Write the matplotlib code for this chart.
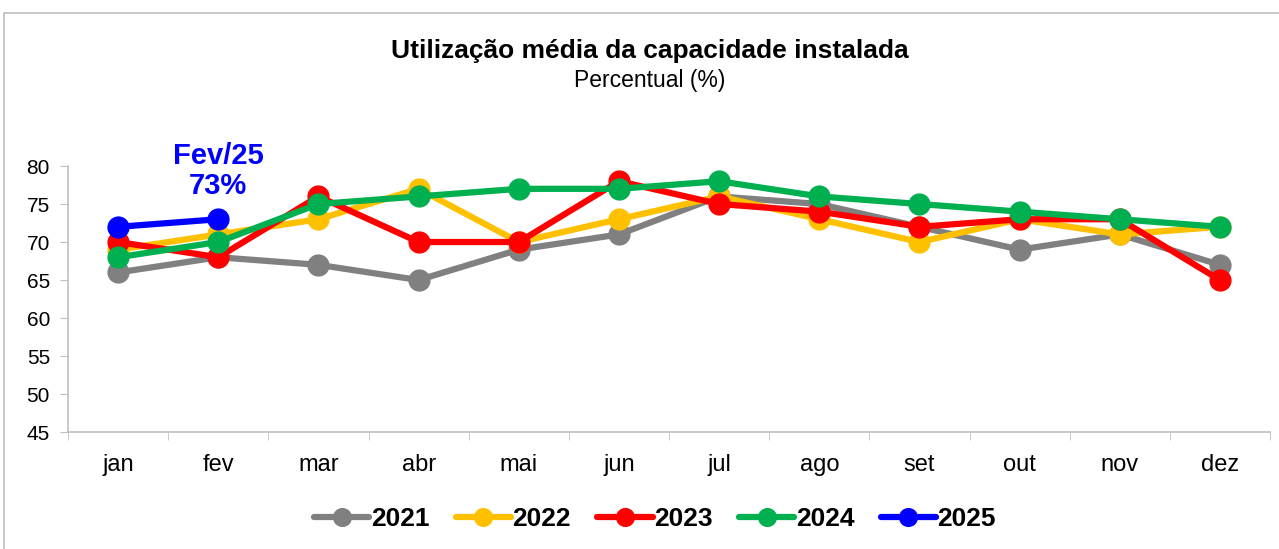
import matplotlib.pyplot as plt
from matplotlib.patches import Rectangle
import numpy as np

plt.rcParams['font.family'] = ['Liberation Sans', 'DejaVu Sans']

meses = ["jan", "fev", "mar", "abr", "mai", "jun", "jul", "ago", "set", "out", "nov", "dez"]
anos = ["2021", "2022", "2023", "2024", "2025"]
cores = ["#808080", "#FFC000", "#FF0000", "#00B050", "#0000FF"]

v2021 = [66, 68, 67, 65, 69, 71, 76, 75, 72, 69, 71, 67]
v2022 = [69, 71, 73, 77, 70, 73, 76, 73, 70, 73, 71, 72]
v2023 = [70, 68, 76, 70, 70, 78, 75, 74, 72, 73, 73, 65]
v2024 = [68, 70, 75, 76, 77, 77, 78, 76, 75, 74, 73, 72]
v2025 = [72, 73]
series = [v2021, v2022, v2023, v2024, v2025]

fig = plt.figure(figsize=(12.79, 5.49), dpi=100)
ax = fig.add_axes([0.0532, 0.213, 0.9398, 0.4846])

# moldura externa
fig.patches.append(Rectangle((0.003, -0.05), 1.1, 1.026, transform=fig.transFigure,
                             fill=False, edgecolor="#BFBFBF", linewidth=1.2))

x = np.arange(len(meses))
for ano, vals, cor in zip(anos, series, cores):
    ax.plot(x[:len(vals)], vals, color=cor, lw=4.5, marker="o", markersize=15,
            label=ano, solid_capstyle="round")

ax.set_xlim(-0.5, 11.5)
ax.set_ylim(45, 80)
ax.set_yticks(range(45, 81, 5))
ax.set_xticks(x)
ax.set_xticklabels(meses, fontsize=17)
ax.set_xticks(np.arange(-0.5, 12, 1), minor=True)
ax.tick_params(axis="x", which="major", length=0, pad=16)
ax.tick_params(axis="x", which="minor", length=6, color="#BFBFBF", direction="out")
ax.tick_params(axis="y", labelsize=15, length=6, color="#BFBFBF", pad=7)

for s in ["top", "right"]:
    ax.spines[s].set_visible(False)
for s in ["left", "bottom"]:
    ax.spines[s].set_color("#BFBFBF")
    ax.spines[s].set_linewidth(1.2)

ax.text(1, 75.5, "Fev/25\n73%", color="#0000FF", fontsize=21, fontweight="bold",
        ha="center", va="bottom", linespacing=1.1)

fig.text(0.508, 0.907, "Utilização média da capacidade instalada", ha="center",
         va="center", fontsize=19, fontweight="bold")
fig.text(0.508, 0.853, "Percentual (%)", ha="center", va="center", fontsize=16.5)

fig.legend(loc="center", bbox_to_anchor=(0.512, 0.055), ncol=5, frameon=False,
           prop={"size": 19, "weight": "bold"}, handlelength=2.1, handletextpad=0.05,
           columnspacing=1.0, markerscale=0.85)

fig.savefig("out.png", dpi=100)
